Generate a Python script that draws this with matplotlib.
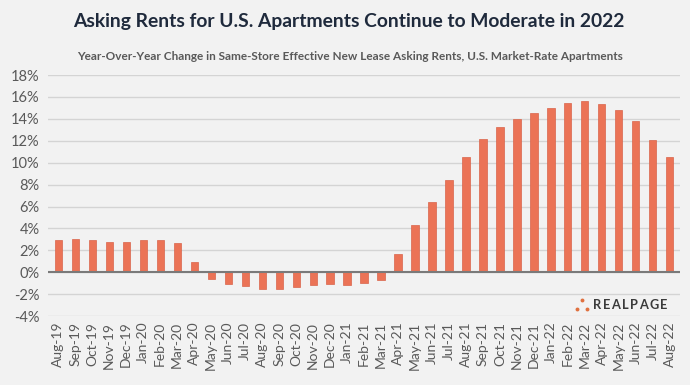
import matplotlib
matplotlib.use("Agg")
import matplotlib.pyplot as plt
from matplotlib.ticker import FuncFormatter

# Monthly labels and YoY change (%)
months = ["Aug-19", "Sep-19", "Oct-19", "Nov-19", "Dec-19", "Jan-20", "Feb-20", "Mar-20",
          "Apr-20", "May-20", "Jun-20", "Jul-20", "Aug-20", "Sep-20", "Oct-20", "Nov-20",
          "Dec-20", "Jan-21", "Feb-21", "Mar-21", "Apr-21", "May-21", "Jun-21", "Jul-21",
          "Aug-21", "Sep-21", "Oct-21", "Nov-21", "Dec-21", "Jan-22", "Feb-22", "Mar-22",
          "Apr-22", "May-22", "Jun-22", "Jul-22", "Aug-22"]
yoy_change = [2.9, 3.0, 2.9, 2.8, 2.75, 2.9, 2.9, 2.7,
              0.9, -0.6, -1.1, -1.25, -1.5, -1.55, -1.3, -1.2,
              -1.05, -1.15, -0.95, -0.7, 1.65, 4.3, 6.4, 8.45,
              10.5, 12.15, 13.25, 13.95, 14.55, 15.0, 15.45, 15.6,
              15.35, 14.8, 13.8, 12.1, 10.5]
y_ticks = list(range(-4, 19, 2))

title = "Asking Rents for U.S. Apartments Continue to Moderate in 2022"
subtitle = ("Year-Over-Year Change in Same-Store Effective New Lease Asking Rents, "
            "U.S. Market-Rate Apartments")
logo = "REALPAGE"

BG = "#f2f2f2"
BAR = "#eb7356"

plt.rcParams["font.family"] = ["Lato", "DejaVu Sans"]

fig = plt.figure(figsize=(6.9, 3.85), dpi=100, facecolor=BG)
ax = fig.add_axes([0.0696, 0.179, 0.916, 0.626])
ax.set_facecolor(BG)

x = range(len(months))
ax.bar(x, yoy_change, width=0.42, color=BAR, edgecolor="#d9644a", linewidth=0.5, zorder=3)

ax.set_ylim(-4, 18)
ax.set_yticks(y_ticks)
ax.yaxis.set_major_formatter(FuncFormatter(lambda v, p: f"{v:.0f}%"))
ax.grid(axis="y", color="#d4d4d4", linewidth=1.0, zorder=0)
ax.axhline(0, color="#7a7a7a", linewidth=1.5, zorder=4)
ax.set_xlim(-0.6, len(months) - 0.4)
ax.set_xticks(list(x))
ax.set_xticklabels(months, rotation=90, fontsize=10, color="#595959")
ax.tick_params(axis="y", labelsize=10.5, colors="#595959", length=0, pad=6)
ax.tick_params(axis="x", length=0, pad=4)
for s in ax.spines.values():
    s.set_visible(False)

fig.text(0.505, 0.945, title, ha="center", va="center", fontsize=13.9,
         fontweight="bold", color="#1f2a3c")
fig.text(0.507, 0.852, subtitle, ha="center", va="center", fontsize=8.5,
         fontweight="bold", color="#595959")

# RealPage logo: three dots plus letter-spaced wordmark
fig.add_artist(plt.Line2D([577 / 690, 582 / 690, 587 / 690], [0.197, 0.221, 0.197],
                          transform=fig.transFigure, linestyle="none", marker="o",
                          markersize=2.8, color="#e0703f", markeredgewidth=0))
renderer = fig.canvas.get_renderer()
xpos = 593.0
tracking = 1.4
for ch in logo:
    t = fig.text(xpos / 690, 0.207, ch, fontsize=9.2, color="#3b3b3b",
                 ha="left", va="center", fontweight="bold")
    xpos += t.get_window_extent(renderer).width + tracking

fig.savefig("out.png", dpi=100, facecolor=BG)
